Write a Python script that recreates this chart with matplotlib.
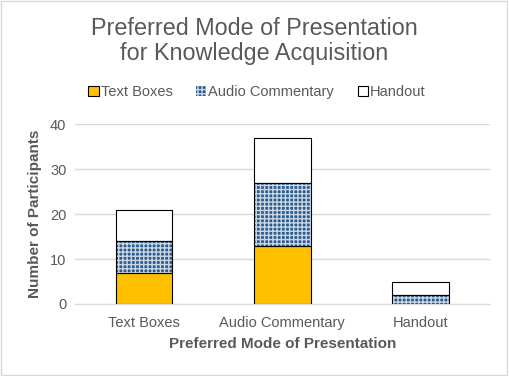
import matplotlib.pyplot as plt
import matplotlib.patches as mpatches
import numpy as np

plt.rcParams['font.family'] = ['Liberation Sans', 'DejaVu Sans']
plt.rcParams['hatch.linewidth'] = 1.0

categories = ['Text Boxes', 'Audio Commentary', 'Handout']
text_boxes = [7, 13, 0]
audio_commentary = [7, 14, 2]
handout = [7, 10, 3]

grey = '#595959'

fig = plt.figure(figsize=(5.09, 3.76), dpi=100)
ax = fig.add_axes([0.147, 0.1915, 0.815, 0.4785])

x = np.arange(len(categories))
w = 0.41
b1 = np.array(text_boxes)
b2 = b1 + np.array(audio_commentary)

ax.bar(x, text_boxes, w, color='#FFC000', edgecolor='black', linewidth=0.8, zorder=3)
# blue with white grid pattern
ax.bar(x, audio_commentary, w, bottom=b1, color='#2E5C8A', edgecolor='#C9D6E6',
       hatch='++++', linewidth=0, zorder=3)
ax.bar(x, audio_commentary, w, bottom=b1, color='none', edgecolor='black',
       linewidth=0.8, zorder=4)
ax.bar(x, handout, w, bottom=b2, color='white', edgecolor='black', linewidth=0.8, zorder=3)

ax.set_xlim(-0.5, 2.5)
ax.set_ylim(0, 40)
ax.set_yticks([0, 10, 20, 30, 40])
ax.set_xticks(x)
ax.set_xticklabels(categories)
ax.tick_params(axis='both', length=0, labelsize=10.5, colors=grey)
ax.tick_params(axis='x', pad=9)
ax.tick_params(axis='y', pad=6)
ax.yaxis.grid(True, color='#D9D9D9', linewidth=1, zorder=0)
for s in ['top', 'right', 'left']:
    ax.spines[s].set_visible(False)
ax.spines['bottom'].set_color('#D9D9D9')

ax.set_ylabel('Number of Participants', fontsize=11, fontweight='bold', color=grey, labelpad=6)
ax.set_xlabel('Preferred Mode of Presentation', fontsize=11, fontweight='bold', color=grey, labelpad=5)

fig.text(0.5, 0.955, 'Preferred Mode of Presentation\nfor Knowledge Acquisition', ha='center',
         va='top', fontsize=16.8, color=grey, linespacing=1.12)

h1 = mpatches.Patch(facecolor='#FFC000', edgecolor='black', linewidth=0.8)
h2 = mpatches.Patch(facecolor='#2E5C8A', edgecolor='#C9D6E6', hatch='++++', linewidth=0)
h3 = mpatches.Patch(facecolor='white', edgecolor='black', linewidth=0.8)
leg = fig.legend([h1, h2, h3], ['Text Boxes', 'Audio Commentary', 'Handout'], ncol=3,
                 loc='center', bbox_to_anchor=(0.505, 0.755), frameon=False, fontsize=10.5,
                 handlelength=0.7, handleheight=0.7, handletextpad=0.15, columnspacing=1.6)
for t in leg.get_texts():
    t.set_color(grey)

fig.patches.append(mpatches.Rectangle((0.002, 0.003), 0.995, 0.994, transform=fig.transFigure,
                                      fill=False, edgecolor='#D9D9D9', linewidth=1))

fig.savefig('out.png', dpi=100)
